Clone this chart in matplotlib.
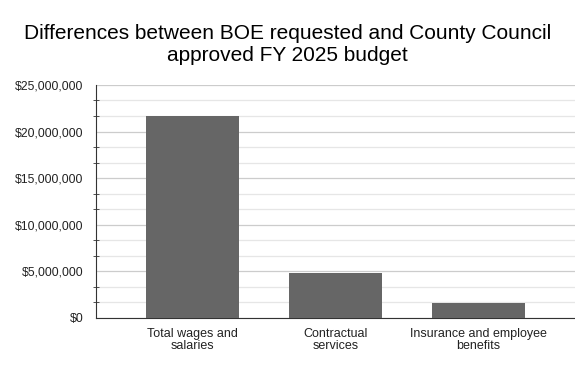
import numpy as np
import matplotlib
matplotlib.use('Agg')
import matplotlib.pyplot as plt
from matplotlib.ticker import FuncFormatter, MultipleLocator

categories = ['Total wages and\nsalaries', 'Contractual\nservices', 'Insurance and employee\nbenefits']
differences = [21700000, 4850000, 1620000]

plt.rcParams['font.family'] = ['Liberation Sans', 'DejaVu Sans']

fig = plt.figure(figsize=(5.75, 3.71), dpi=100)
ax = fig.add_axes([0.167, 0.143, 0.833, 0.628])

x = np.arange(len(categories))
ax.bar(x, differences, width=0.655, color='#666666', zorder=3)

ax.set_xlim(-0.675, 2.675)
ax.set_ylim(0, 25000000)
ax.yaxis.set_major_locator(MultipleLocator(5000000))
ax.yaxis.set_minor_locator(MultipleLocator(5000000 / 3))
ax.yaxis.set_major_formatter(FuncFormatter(lambda v, p: '${:,.0f}'.format(v)))
ax.grid(axis='y', which='major', color='#cccccc', linewidth=0.9, zorder=0)
ax.grid(axis='y', which='minor', color='#e6e6e6', linewidth=0.9, zorder=0)

ax.set_xticks(x)
ax.set_xticklabels(categories, fontsize=9, color='#222222', linespacing=1.05)
ax.tick_params(axis='x', length=0, pad=7)
ax.tick_params(axis='y', which='major', length=0, labelsize=8.8, labelcolor='#222222', pad=9)
ax.tick_params(axis='y', which='minor', direction='inout', length=5, color='#333333')

for s in ['top', 'right']:
    ax.spines[s].set_visible(False)
ax.spines['left'].set_color('#333333')
ax.spines['bottom'].set_color('#333333')

fig.text(0.5, 0.935, 'Differences between BOE requested and County Council\napproved FY 2025 budget',
         ha='center', va='top', fontsize=15, color='#000000', linespacing=1.2)

fig.savefig('out.png', dpi=100)
